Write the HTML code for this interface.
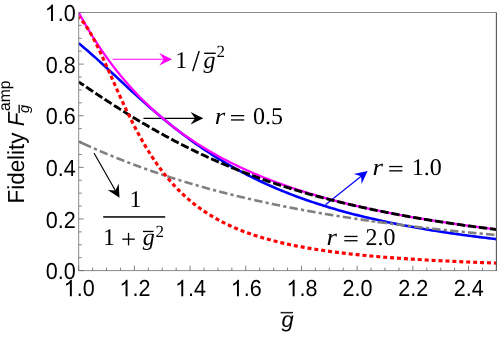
<!DOCTYPE html>
<html><head><meta charset="utf-8"><style>
html,body{margin:0;padding:0;background:#fff;}
svg{display:block;text-rendering:geometricPrecision}
.s,.t{filter:grayscale(1)}
.s{font-family:"Liberation Sans",sans-serif;}
.t{font-family:"Liberation Serif",serif;}
</style></head><body>
<svg width="498" height="338" viewBox="0 0 498 338">
<rect width="498" height="338" fill="#fff"/>
<defs><clipPath id="c"><rect x="78.7" y="12.5" width="417.7" height="258.1"/></clipPath></defs>
<line x1="112.60" y1="59.20" x2="164.20" y2="59.20" stroke="#ff00ff" stroke-width="1.15"/><path d="M172.00,59.20 L159.30,52.90 L163.70,59.20 L159.30,65.50 Z" fill="#ff00ff"/><line x1="143.50" y1="118.30" x2="195.50" y2="118.30" stroke="#000" stroke-width="1.15"/><path d="M203.30,118.30 L190.60,112.00 L195.00,118.30 L190.60,124.60 Z" fill="#000"/><line x1="94.00" y1="153.00" x2="115.64" y2="191.02" stroke="#000" stroke-width="1.15"/><path d="M119.50,197.80 L118.69,183.65 L115.39,190.59 L107.74,189.88 Z" fill="#000"/><line x1="325.50" y1="204.80" x2="361.51" y2="175.97" stroke="#0000ff" stroke-width="1.15"/><path d="M367.60,171.10 L353.75,174.12 L361.12,176.29 L361.62,183.95 Z" fill="#0000ff"/>
<g clip-path="url(#c)" fill="none">
<path d="M78.70,43.27 L81.48,45.56 L84.27,47.91 L87.05,50.29 L89.84,52.71 L92.62,55.17 L95.41,57.65 L98.19,60.16 L100.98,62.69 L103.76,65.24 L106.55,67.80 L109.33,70.37 L112.12,72.95 L114.90,75.54 L117.69,78.12 L120.47,80.71 L123.25,83.29 L126.04,85.87 L128.82,88.43 L131.61,90.99 L134.39,93.53 L137.18,96.06 L139.96,98.57 L142.75,101.07 L145.53,103.54 L148.32,105.99 L151.10,108.42 L153.89,110.83 L156.67,113.21 L159.46,115.57 L162.24,117.90 L165.02,120.20 L167.81,122.48 L170.59,124.72 L173.38,126.94 L176.16,129.13 L178.95,131.29 L181.73,133.41 L184.52,135.51 L187.30,137.58 L190.09,139.61 L192.87,141.62 L195.66,143.59 L198.44,145.54 L201.23,147.45 L204.01,149.34 L206.79,151.19 L209.58,153.01 L212.36,154.80 L215.15,156.57 L217.93,158.30 L220.72,160.00 L223.50,161.68 L226.29,163.32 L229.07,164.94 L231.86,166.53 L234.64,168.09 L237.43,169.63 L240.21,171.13 L243.00,172.61 L245.78,174.07 L248.56,175.50 L251.35,176.90 L254.13,178.28 L256.92,179.63 L259.70,180.96 L262.49,182.27 L265.27,183.55 L268.06,184.81 L270.84,186.04 L273.63,187.26 L276.41,188.45 L279.20,189.62 L281.98,190.77 L284.77,191.90 L287.55,193.00 L290.33,194.09 L293.12,195.16 L295.90,196.21 L298.69,197.24 L301.47,198.25 L304.26,199.25 L307.04,200.22 L309.83,201.18 L312.61,202.12 L315.40,203.05 L318.18,203.96 L320.97,204.85 L323.75,205.72 L326.54,206.58 L329.32,207.43 L332.10,208.26 L334.89,209.08 L337.67,209.88 L340.46,210.67 L343.24,211.44 L346.03,212.20 L348.81,212.95 L351.60,213.68 L354.38,214.41 L357.17,215.12 L359.95,215.81 L362.74,216.50 L365.52,217.17 L368.31,217.83 L371.09,218.49 L373.87,219.13 L376.66,219.76 L379.44,220.37 L382.23,220.98 L385.01,221.58 L387.80,222.17 L390.58,222.75 L393.37,223.32 L396.15,223.88 L398.94,224.43 L401.72,224.97 L404.51,225.50 L407.29,226.03 L410.08,226.54 L412.86,227.05 L415.64,227.55 L418.43,228.04 L421.21,228.52 L424.00,229.00 L426.78,229.47 L429.57,229.93 L432.35,230.38 L435.14,230.83 L437.92,231.27 L440.71,231.70 L443.49,232.13 L446.28,232.55 L449.06,232.96 L451.85,233.37 L454.63,233.77 L457.41,234.16 L460.20,234.55 L462.98,234.93 L465.77,235.31 L468.55,235.68 L471.34,236.05 L474.12,236.41 L476.91,236.76 L479.69,237.11 L482.48,237.46 L485.26,237.80 L488.05,238.13 L490.83,238.46 L493.62,238.79 L496.40,239.11" stroke="#0000ff" stroke-width="2.6"/>
<path d="M78.70,12.50 L81.48,17.59 L84.27,22.52 L87.05,27.32 L89.84,31.97 L92.62,36.50 L95.41,40.89 L98.19,45.17 L100.98,49.32 L103.76,53.36 L106.55,57.29 L109.33,61.12 L112.12,64.84 L114.90,68.47 L117.69,72.00 L120.47,75.44 L123.25,78.79 L126.04,82.05 L128.82,85.24 L131.61,88.34 L134.39,91.36 L137.18,94.31 L139.96,97.19 L142.75,100.00 L145.53,102.74 L148.32,105.42 L151.10,108.03 L153.89,110.58 L156.67,113.07 L159.46,115.50 L162.24,117.88 L165.02,120.20 L167.81,122.47 L170.59,124.69 L173.38,126.86 L176.16,128.98 L178.95,131.06 L181.73,133.09 L184.52,135.07 L187.30,137.01 L190.09,138.92 L192.87,140.78 L195.66,142.60 L198.44,144.38 L201.23,146.13 L204.01,147.84 L206.79,149.52 L209.58,151.16 L212.36,152.77 L215.15,154.34 L217.93,155.89 L220.72,157.40 L223.50,158.89 L226.29,160.34 L229.07,161.77 L231.86,163.17 L234.64,164.54 L237.43,165.89 L240.21,167.21 L243.00,168.51 L245.78,169.78 L248.56,171.03 L251.35,172.25 L254.13,173.46 L256.92,174.64 L259.70,175.80 L262.49,176.94 L265.27,178.05 L268.06,179.15 L270.84,180.23 L273.63,181.29 L276.41,182.33 L279.20,183.36 L281.98,184.36 L284.77,185.35 L287.55,186.32 L290.33,187.28 L293.12,188.22 L295.90,189.14 L298.69,190.05 L301.47,190.94 L304.26,191.82 L307.04,192.68 L309.83,193.53 L312.61,194.37 L315.40,195.19 L318.18,196.00 L320.97,196.79 L323.75,197.57 L326.54,198.35 L329.32,199.10 L332.10,199.85 L334.89,200.59 L337.67,201.31 L340.46,202.02 L343.24,202.72 L346.03,203.41 L348.81,204.09 L351.60,204.76 L354.38,205.42 L357.17,206.08 L359.95,206.72 L362.74,207.35 L365.52,207.97 L368.31,208.58 L371.09,209.18 L373.87,209.78 L376.66,210.37 L379.44,210.94 L382.23,211.51 L385.01,212.07 L387.80,212.63 L390.58,213.17 L393.37,213.71 L396.15,214.24 L398.94,214.76 L401.72,215.28 L404.51,215.79 L407.29,216.29 L410.08,216.79 L412.86,217.27 L415.64,217.76 L418.43,218.23 L421.21,218.70 L424.00,219.16 L426.78,219.62 L429.57,220.07 L432.35,220.51 L435.14,220.95 L437.92,221.38 L440.71,221.81 L443.49,222.23 L446.28,222.65 L449.06,223.06 L451.85,223.46 L454.63,223.86 L457.41,224.26 L460.20,224.65 L462.98,225.03 L465.77,225.42 L468.55,225.79 L471.34,226.16 L474.12,226.53 L476.91,226.89 L479.69,227.25 L482.48,227.60 L485.26,227.95 L488.05,228.29 L490.83,228.64 L493.62,228.97 L496.40,229.30" stroke="#ff00ff" stroke-width="2.3"/>
<path d="M78.70,141.55 L78.80,141.60 L79.64,141.98 L80.48,142.37 L81.31,142.75 L82.15,143.14 L82.98,143.52 L83.82,143.90 L84.65,144.28 L85.49,144.66 L86.32,145.03 L87.16,145.41 L87.99,145.79 L88.83,146.16 L89.66,146.53 L90.50,146.90 L91.00,147.12M93.92,148.41 L93.95,148.42 L94.78,148.79 L95.62,149.15 L96.45,149.52 L96.89,149.70M99.82,150.97 L99.90,151.00 L100.73,151.36 L101.57,151.71 L102.40,152.07 L103.24,152.42 L104.08,152.78 L104.91,153.13 L105.75,153.48 L106.58,153.83 L107.42,154.18 L107.56,154.24M110.52,155.46 L110.55,155.47 L111.39,155.81 L112.22,156.16 L113.06,156.50 L113.51,156.68M116.48,157.88 L116.50,157.89 L117.34,158.22 L118.17,158.56 L119.01,158.89 L119.84,159.22 L120.68,159.55 L121.51,159.88 L122.35,160.21 L123.19,160.54 L124.02,160.86 L124.29,160.97M127.27,162.12 L127.36,162.16 L128.20,162.48 L129.03,162.80 L129.87,163.11 L130.29,163.28M133.28,164.41 L133.31,164.42 L134.15,164.73 L134.99,165.04 L135.82,165.35 L136.66,165.66 L137.49,165.97 L138.33,166.28 L139.16,166.59 L140.00,166.89 L140.83,167.20 L141.16,167.32M144.17,168.40 L144.17,168.40 L145.01,168.70 L145.85,169.00 L146.68,169.30 L147.22,169.49M150.23,170.55 L150.34,170.59 L151.17,170.88 L152.01,171.17 L152.84,171.46 L153.68,171.75 L154.51,172.04 L155.35,172.32 L156.18,172.61 L157.02,172.89 L157.85,173.18 L158.18,173.29M161.21,174.31 L161.30,174.34 L162.14,174.62 L162.97,174.90 L163.81,175.17 L164.27,175.33M167.31,176.32 L167.36,176.34 L168.19,176.61 L169.03,176.88 L169.86,177.15 L170.70,177.42 L171.53,177.69 L172.37,177.95 L173.20,178.22 L174.04,178.49 L174.88,178.75 L175.31,178.89M178.37,179.85 L178.43,179.86 L179.26,180.12 L180.10,180.38 L180.93,180.64 L181.45,180.80M184.51,181.73 L184.59,181.76 L185.42,182.01 L186.26,182.26 L187.09,182.51 L187.93,182.76 L188.76,183.01 L189.60,183.26 L190.43,183.51 L191.27,183.75 L192.11,184.00 L192.56,184.13M195.64,185.03 L195.66,185.03 L196.49,185.28 L197.33,185.52 L198.16,185.76 L198.74,185.92M201.82,186.79 L201.92,186.82 L202.76,187.06 L203.59,187.29 L204.43,187.53 L205.26,187.76 L206.10,187.99 L206.93,188.22 L207.77,188.45 L208.60,188.68 L209.44,188.91 L209.91,189.04M213.00,189.87 L213.09,189.90 L213.93,190.12 L214.77,190.35 L215.60,190.57 L216.12,190.71M219.22,191.52 L219.26,191.53 L220.09,191.75 L220.93,191.97 L221.76,192.18 L222.60,192.40 L223.43,192.62 L224.27,192.83 L225.10,193.04 L225.94,193.26 L226.77,193.47 L227.35,193.62M230.46,194.40 L230.53,194.41 L231.37,194.62 L232.20,194.83 L233.04,195.04 L233.59,195.17M236.70,195.93 L236.80,195.96 L237.63,196.16 L238.47,196.36 L239.31,196.56 L240.14,196.76 L240.98,196.96 L241.81,197.16 L242.65,197.36 L243.48,197.56 L244.32,197.76 L244.87,197.89M247.99,198.61 L248.08,198.64 L248.91,198.83 L249.75,199.02 L250.58,199.21 L251.13,199.34M254.25,200.05 L254.34,200.07 L255.18,200.26 L256.01,200.44 L256.85,200.63 L257.68,200.82 L258.52,201.00 L259.36,201.19 L260.19,201.37 L261.03,201.56 L261.86,201.74 L262.45,201.87M265.58,202.55 L265.62,202.55 L266.46,202.73 L267.29,202.91 L268.13,203.09 L268.74,203.22M271.87,203.88 L271.89,203.89 L272.72,204.06 L273.56,204.24 L274.39,204.41 L275.23,204.58 L276.06,204.76 L276.90,204.93 L277.73,205.10 L278.57,205.27 L279.40,205.44 L280.10,205.58M283.23,206.21 L283.27,206.22 L284.10,206.39 L284.94,206.55 L285.77,206.72 L286.40,206.84M289.54,207.46 L289.64,207.48 L290.47,207.64 L291.31,207.80 L292.14,207.96 L292.98,208.12 L293.82,208.28 L294.65,208.44 L295.49,208.60 L296.32,208.76 L297.16,208.92 L297.79,209.04M300.94,209.63 L301.02,209.64 L301.86,209.80 L302.69,209.95 L303.53,210.11 L304.11,210.21M307.26,210.79 L307.29,210.79 L308.12,210.94 L308.96,211.10 L309.79,211.25 L310.63,211.40 L311.46,211.54 L312.30,211.69 L313.13,211.84 L313.97,211.99 L314.80,212.14 L315.53,212.26M318.68,212.81 L318.77,212.83 L319.61,212.97 L320.44,213.12 L321.28,213.26 L321.87,213.36M325.02,213.89 L325.04,213.90 L325.87,214.04 L326.71,214.18 L327.54,214.32 L328.38,214.46 L329.22,214.60 L330.05,214.73 L330.89,214.87 L331.72,215.01 L332.56,215.15 L333.31,215.27M336.47,215.78 L336.53,215.79 L337.36,215.92 L338.20,216.06 L339.03,216.19 L339.66,216.29M342.82,216.79 L342.90,216.80 L343.73,216.93 L344.57,217.06 L345.40,217.19 L346.24,217.32 L347.07,217.45 L347.91,217.58 L348.74,217.71 L349.58,217.84 L350.41,217.97 L351.12,218.07M354.28,218.55 L354.38,218.56 L355.22,218.69 L356.05,218.81 L356.89,218.94 L357.48,219.03M360.64,219.49 L360.65,219.49 L361.48,219.61 L362.32,219.74 L363.15,219.86 L363.99,219.98 L364.82,220.10 L365.66,220.22 L366.50,220.34 L367.33,220.46 L368.17,220.58 L368.96,220.69M372.13,221.13 L372.13,221.14 L372.97,221.25 L373.81,221.37 L374.64,221.48 L375.33,221.58M378.50,222.01 L378.50,222.02 L379.34,222.13 L380.17,222.24 L381.01,222.36 L381.85,222.47 L382.68,222.58 L383.52,222.69 L384.35,222.80 L385.19,222.92 L386.02,223.03 L386.82,223.13M390.00,223.55 L390.10,223.56 L390.93,223.67 L391.77,223.78 L392.60,223.89 L393.20,223.96M396.37,224.37 L396.47,224.38 L397.30,224.49 L398.14,224.59 L398.97,224.70 L399.81,224.80 L400.64,224.91 L401.48,225.01 L402.31,225.12 L403.15,225.22 L403.98,225.33 L404.71,225.41M407.88,225.80 L407.95,225.81 L408.79,225.91 L409.62,226.02 L410.46,226.12 L411.09,226.19M414.27,226.57 L414.32,226.58 L415.16,226.68 L415.99,226.78 L416.83,226.88 L417.66,226.97 L418.50,227.07 L419.33,227.17 L420.17,227.27 L421.01,227.36 L421.84,227.46 L422.61,227.55M425.79,227.91 L425.81,227.92 L426.64,228.01 L427.48,228.11 L428.31,228.20 L429.00,228.28M432.18,228.63 L432.28,228.64 L433.12,228.74 L433.95,228.83 L434.79,228.92 L435.62,229.01 L436.46,229.11 L437.30,229.20 L438.13,229.29 L438.97,229.38 L439.80,229.47 L440.53,229.55M443.71,229.89 L443.77,229.89 L444.61,229.98 L445.44,230.07 L446.28,230.16 L446.92,230.23M450.11,230.56 L450.14,230.57 L450.98,230.65 L451.81,230.74 L452.65,230.83 L453.48,230.91 L454.32,231.00 L455.15,231.08 L455.99,231.17 L456.82,231.25 L457.66,231.34 L458.46,231.42M461.65,231.74 L461.73,231.75 L462.57,231.83 L463.40,231.91 L464.24,232.00 L464.86,232.06M468.04,232.37 L468.10,232.38 L468.94,232.46 L469.77,232.54 L470.61,232.62 L471.44,232.70 L472.28,232.78 L473.11,232.86 L473.95,232.94 L474.78,233.02 L475.62,233.10 L476.41,233.17M479.59,233.47 L479.69,233.48 L480.53,233.56 L481.36,233.64 L482.20,233.72 L482.81,233.77M485.99,234.07 L486.06,234.07 L486.90,234.15 L487.73,234.22 L488.57,234.30 L489.40,234.38 L490.24,234.45 L491.07,234.53 L491.91,234.60 L492.75,234.68 L493.58,234.75 L494.36,234.82" stroke="#808080" stroke-width="2.6"/>
<path d="M78.70,81.91 L78.80,81.98 L79.64,82.55 L80.48,83.12 L81.31,83.68 L82.15,84.25 L82.98,84.81 L83.82,85.38 L83.89,85.43M86.21,86.99 L86.22,87.00 L87.05,87.56 L87.89,88.12 L88.72,88.68 L89.56,89.24 L90.40,89.80 L91.23,90.36 L92.07,90.92 L92.90,91.48 L93.10,91.62M95.43,93.17 L95.51,93.22 L96.35,93.78 L97.18,94.34 L98.02,94.89 L98.85,95.44 L99.69,96.00 L100.52,96.55 L101.36,97.10 L102.20,97.65 L102.35,97.75M104.69,99.29 L104.70,99.30 L105.54,99.84 L106.37,100.39 L107.21,100.94 L108.04,101.48 L108.88,102.02 L109.71,102.57 L110.55,103.11 L111.39,103.65 L111.64,103.82M114.00,105.33 L114.10,105.40 L114.94,105.93 L115.77,106.47 L116.61,107.00 L117.44,107.53 L118.28,108.07 L119.11,108.60 L119.95,109.13 L120.78,109.65 L121.00,109.79M123.36,111.28 L123.39,111.30 L124.23,111.82 L125.06,112.34 L125.90,112.86 L126.74,113.38 L127.57,113.90 L128.41,114.42 L129.24,114.93 L130.08,115.45 L130.42,115.66M132.80,117.12 L132.90,117.18 L133.73,117.69 L134.57,118.19 L135.40,118.70 L136.24,119.20 L137.07,119.71 L137.91,120.21 L138.74,120.71 L139.58,121.21 L139.91,121.41M142.31,122.84 L142.40,122.89 L143.23,123.38 L144.07,123.87 L144.91,124.36 L145.74,124.85 L146.58,125.34 L147.41,125.83 L148.25,126.31 L149.08,126.80 L149.47,127.03M151.90,128.42 L151.90,128.42 L152.74,128.90 L153.57,129.38 L154.41,129.85 L155.24,130.32 L156.08,130.80 L156.91,131.27 L157.75,131.74 L158.59,132.20 L159.12,132.51M161.57,133.86 L161.61,133.89 L162.45,134.35 L163.28,134.81 L164.12,135.27 L164.96,135.72 L165.79,136.18 L166.63,136.63 L167.46,137.08 L168.30,137.53 L168.86,137.84M171.32,139.15 L171.32,139.15 L172.16,139.60 L173.00,140.04 L173.83,140.48 L174.67,140.92 L175.50,141.36 L176.34,141.80 L177.17,142.23 L178.01,142.66 L178.67,143.01M181.16,144.29 L181.25,144.33 L182.08,144.76 L182.92,145.18 L183.75,145.60 L184.59,146.03 L185.42,146.45 L186.26,146.87 L187.09,147.28 L187.93,147.70 L188.58,148.02M191.08,149.26 L191.17,149.30 L192.00,149.71 L192.84,150.11 L193.67,150.52 L194.51,150.92 L195.34,151.33 L196.18,151.73 L197.01,152.13 L197.85,152.53 L198.56,152.87M201.09,154.06 L201.19,154.11 L202.03,154.50 L202.86,154.89 L203.70,155.28 L204.53,155.67 L205.37,156.05 L206.20,156.44 L207.04,156.82 L207.87,157.20 L208.62,157.54M211.17,158.69 L211.22,158.71 L212.05,159.09 L212.89,159.46 L213.72,159.83 L214.56,160.20 L215.39,160.57 L216.23,160.94 L217.06,161.30 L217.90,161.67 L218.73,162.03 L218.76,162.04M221.33,163.15 L221.34,163.16 L222.18,163.52 L223.02,163.87 L223.85,164.23 L224.69,164.58 L225.52,164.93 L226.36,165.28 L227.19,165.63 L228.03,165.98 L228.86,166.33 L228.98,166.38M231.57,167.44 L231.58,167.45 L232.41,167.79 L233.25,168.13 L234.08,168.47 L234.92,168.80 L235.76,169.14 L236.59,169.47 L237.43,169.81 L238.26,170.14 L239.10,170.47 L239.27,170.54M241.87,171.56 L241.92,171.58 L242.75,171.90 L243.59,172.23 L244.42,172.55 L245.26,172.87 L246.09,173.19 L246.93,173.51 L247.76,173.83 L248.60,174.14 L249.43,174.46 L249.62,174.53M252.24,175.51 L252.25,175.51 L253.09,175.82 L253.93,176.13 L254.76,176.44 L255.60,176.74 L256.43,177.05 L257.27,177.35 L258.10,177.65 L258.94,177.96 L259.77,178.26 L260.04,178.35M262.68,179.29 L262.70,179.30 L263.53,179.59 L264.37,179.89 L265.20,180.18 L266.04,180.47 L266.87,180.76 L267.71,181.05 L268.54,181.34 L269.38,181.62 L270.22,181.91 L270.52,182.01M273.17,182.91 L273.24,182.93 L274.08,183.21 L274.91,183.49 L275.75,183.77 L276.59,184.05 L277.42,184.32 L278.26,184.60 L279.09,184.87 L279.93,185.15 L280.76,185.42 L281.05,185.51M283.71,186.37 L283.79,186.39 L284.63,186.66 L285.46,186.92 L286.30,187.19 L287.13,187.45 L287.97,187.71 L288.80,187.98 L289.64,188.24 L290.47,188.50 L291.31,188.75 L291.63,188.85M294.30,189.67 L294.34,189.68 L295.17,189.93 L296.01,190.19 L296.84,190.44 L297.68,190.69 L298.51,190.94 L299.35,191.19 L300.19,191.43 L301.02,191.68 L301.86,191.93 L302.26,192.04M304.94,192.83 L304.99,192.84 L305.82,193.08 L306.66,193.32 L307.50,193.56 L308.33,193.80 L309.17,194.03 L310.00,194.27 L310.84,194.50 L311.67,194.74 L312.51,194.97 L312.93,195.09M315.62,195.83 L315.64,195.84 L316.48,196.07 L317.31,196.30 L318.15,196.52 L318.98,196.75 L319.82,196.98 L320.65,197.20 L321.49,197.42 L322.32,197.65 L323.16,197.87 L323.64,197.99M326.34,198.71 L326.40,198.72 L327.23,198.94 L328.07,199.15 L328.90,199.37 L329.74,199.58 L330.57,199.80 L331.41,200.01 L332.24,200.22 L333.08,200.44 L333.91,200.65 L334.38,200.76M337.10,201.44 L337.15,201.46 L337.99,201.66 L338.82,201.87 L339.66,202.07 L340.49,202.28 L341.33,202.48 L342.16,202.68 L343.00,202.89 L343.84,203.09 L344.67,203.29 L345.16,203.40M347.88,204.05 L347.91,204.06 L348.74,204.25 L349.58,204.45 L350.41,204.64 L351.25,204.84 L352.08,205.03 L352.92,205.22 L353.76,205.42 L354.59,205.61 L355.43,205.80 L355.97,205.92M358.70,206.54 L358.77,206.55 L359.60,206.74 L360.44,206.93 L361.27,207.11 L362.11,207.30 L362.94,207.48 L363.78,207.66 L364.62,207.85 L365.45,208.03 L366.29,208.21 L366.80,208.32M369.54,208.91 L369.63,208.93 L370.46,209.10 L371.30,209.28 L372.13,209.46 L372.97,209.63 L373.81,209.81 L374.64,209.98 L375.48,210.15 L376.31,210.33 L377.15,210.50 L377.66,210.61M380.40,211.16 L380.49,211.18 L381.32,211.35 L382.16,211.52 L382.99,211.69 L383.83,211.85 L384.67,212.02 L385.50,212.19 L386.34,212.35 L387.17,212.51 L388.01,212.68 L388.54,212.78M391.29,213.32 L391.35,213.33 L392.18,213.49 L393.02,213.65 L393.85,213.81 L394.69,213.97 L395.53,214.12 L396.36,214.28 L397.20,214.44 L398.03,214.60 L398.87,214.75 L399.44,214.86M402.20,215.37 L402.21,215.37 L403.04,215.52 L403.88,215.68 L404.71,215.83 L405.55,215.98 L406.39,216.13 L407.22,216.28 L408.06,216.43 L408.89,216.58 L409.73,216.73 L410.36,216.84M413.12,217.32 L413.17,217.33 L414.01,217.48 L414.84,217.62 L415.68,217.77 L416.51,217.91 L417.35,218.05 L418.19,218.20 L419.02,218.34 L419.86,218.48 L420.69,218.62 L421.30,218.73M424.06,219.19 L424.14,219.20 L424.97,219.34 L425.81,219.48 L426.64,219.61 L427.48,219.75 L428.31,219.89 L429.15,220.02 L429.99,220.16 L430.82,220.30 L431.66,220.43 L432.25,220.52M435.01,220.97 L435.10,220.98 L435.94,221.11 L436.77,221.24 L437.61,221.37 L438.44,221.50 L439.28,221.63 L440.11,221.76 L440.95,221.89 L441.79,222.02 L442.62,222.15 L443.21,222.24M445.98,222.66 L446.07,222.67 L446.90,222.80 L447.74,222.93 L448.57,223.05 L449.41,223.18 L450.24,223.30 L451.08,223.42 L451.91,223.55 L452.75,223.67 L453.59,223.79 L454.19,223.88M456.96,224.28 L457.03,224.29 L457.87,224.41 L458.70,224.53 L459.54,224.65 L460.37,224.77 L461.21,224.89 L462.04,225.00 L462.88,225.12 L463.71,225.24 L464.55,225.36 L465.17,225.44M467.95,225.82 L468.00,225.83 L468.83,225.95 L469.67,226.06 L470.50,226.17 L471.34,226.29 L472.17,226.40 L473.01,226.51 L473.84,226.62 L474.68,226.74 L475.51,226.85 L476.17,226.93M478.94,227.30 L478.96,227.30 L479.80,227.41 L480.63,227.52 L481.47,227.63 L482.30,227.74 L483.14,227.85 L483.97,227.95 L484.81,228.06 L485.64,228.17 L486.48,228.27 L487.18,228.36M489.95,228.71 L490.03,228.72 L490.87,228.82 L491.70,228.93 L492.54,229.03 L493.37,229.13 L494.21,229.24 L495.04,229.34 L495.88,229.44 L496.40,229.51" stroke="#000" stroke-width="2.9"/>
<path d="M78.70,17.14 L81.48,20.00 L84.27,23.46 L87.05,27.48 L89.84,31.99 L92.62,36.94 L95.41,42.27 L98.19,47.90 L100.98,53.78 L103.76,59.84 L106.55,66.03 L109.33,72.30 L112.12,78.61 L114.90,84.90 L117.69,91.15 L120.47,97.32 L123.25,103.39 L126.04,109.34 L128.82,115.14 L131.61,120.78 L134.39,126.26 L137.18,131.56 L139.96,136.69 L142.75,141.63 L145.53,146.39 L148.32,150.97 L151.10,155.37 L153.89,159.59 L156.67,163.64 L159.46,167.52 L162.24,171.24 L165.02,174.80 L167.81,178.21 L170.59,181.47 L173.38,184.59 L176.16,187.57 L178.95,190.43 L181.73,193.16 L184.52,195.77 L187.30,198.27 L190.09,200.66 L192.87,202.95 L195.66,205.14 L198.44,207.24 L201.23,209.24 L204.01,211.17 L206.79,213.01 L209.58,214.78 L212.36,216.47 L215.15,218.09 L217.93,219.65 L220.72,221.15 L223.50,222.58 L226.29,223.96 L229.07,225.28 L231.86,226.56 L234.64,227.78 L237.43,228.95 L240.21,230.08 L243.00,231.17 L245.78,232.22 L248.56,233.23 L251.35,234.20 L254.13,235.14 L256.92,236.04 L259.70,236.91 L262.49,237.75 L265.27,238.56 L268.06,239.34 L270.84,240.09 L273.63,240.82 L276.41,241.52 L279.20,242.20 L281.98,242.86 L284.77,243.50 L287.55,244.11 L290.33,244.71 L293.12,245.28 L295.90,245.84 L298.69,246.38 L301.47,246.90 L304.26,247.41 L307.04,247.90 L309.83,248.38 L312.61,248.84 L315.40,249.29 L318.18,249.72 L320.97,250.14 L323.75,250.55 L326.54,250.95 L329.32,251.34 L332.10,251.71 L334.89,252.08 L337.67,252.43 L340.46,252.78 L343.24,253.11 L346.03,253.44 L348.81,253.76 L351.60,254.07 L354.38,254.37 L357.17,254.66 L359.95,254.94 L362.74,255.22 L365.52,255.49 L368.31,255.76 L371.09,256.01 L373.87,256.26 L376.66,256.51 L379.44,256.74 L382.23,256.98 L385.01,257.20 L387.80,257.42 L390.58,257.64 L393.37,257.85 L396.15,258.05 L398.94,258.26 L401.72,258.45 L404.51,258.64 L407.29,258.83 L410.08,259.01 L412.86,259.19 L415.64,259.37 L418.43,259.54 L421.21,259.70 L424.00,259.87 L426.78,260.03 L429.57,260.18 L432.35,260.33 L435.14,260.48 L437.92,260.63 L440.71,260.77 L443.49,260.91 L446.28,261.05 L449.06,261.18 L451.85,261.32 L454.63,261.44 L457.41,261.57 L460.20,261.69 L462.98,261.81 L465.77,261.93 L468.55,262.05 L471.34,262.16 L474.12,262.28 L476.91,262.39 L479.69,262.49 L482.48,262.60 L485.26,262.70 L488.05,262.80 L490.83,262.90 L493.62,263.00 L496.40,263.10" stroke="#ff0000" stroke-width="3.15" stroke-dasharray="4.0,2.931" stroke-dashoffset="1.93"/>
</g>
<g stroke="#8a8a8a" stroke-width="1" fill="none"><path d="M78.7,270.6 V12.5 H496.4"/><path d="M78.7,270.6 H496.4"/></g>
<path d="M496.4,12.5 V271.1" stroke="#555" stroke-width="1.1" fill="none"/>
<g stroke="#6a6a6a" stroke-width="0.85"><line x1="78.70" y1="270.60" x2="78.70" y2="265.60"/><line x1="92.62" y1="270.60" x2="92.62" y2="267.60"/><line x1="106.55" y1="270.60" x2="106.55" y2="267.60"/><line x1="120.47" y1="270.60" x2="120.47" y2="267.60"/><line x1="134.39" y1="270.60" x2="134.39" y2="265.60"/><line x1="148.32" y1="270.60" x2="148.32" y2="267.60"/><line x1="162.24" y1="270.60" x2="162.24" y2="267.60"/><line x1="176.16" y1="270.60" x2="176.16" y2="267.60"/><line x1="190.09" y1="270.60" x2="190.09" y2="265.60"/><line x1="204.01" y1="270.60" x2="204.01" y2="267.60"/><line x1="217.93" y1="270.60" x2="217.93" y2="267.60"/><line x1="231.86" y1="270.60" x2="231.86" y2="267.60"/><line x1="245.78" y1="270.60" x2="245.78" y2="265.60"/><line x1="259.70" y1="270.60" x2="259.70" y2="267.60"/><line x1="273.63" y1="270.60" x2="273.63" y2="267.60"/><line x1="287.55" y1="270.60" x2="287.55" y2="267.60"/><line x1="301.47" y1="270.60" x2="301.47" y2="265.60"/><line x1="315.40" y1="270.60" x2="315.40" y2="267.60"/><line x1="329.32" y1="270.60" x2="329.32" y2="267.60"/><line x1="343.24" y1="270.60" x2="343.24" y2="267.60"/><line x1="357.17" y1="270.60" x2="357.17" y2="265.60"/><line x1="371.09" y1="270.60" x2="371.09" y2="267.60"/><line x1="385.01" y1="270.60" x2="385.01" y2="267.60"/><line x1="398.94" y1="270.60" x2="398.94" y2="267.60"/><line x1="412.86" y1="270.60" x2="412.86" y2="265.60"/><line x1="426.78" y1="270.60" x2="426.78" y2="267.60"/><line x1="440.71" y1="270.60" x2="440.71" y2="267.60"/><line x1="454.63" y1="270.60" x2="454.63" y2="267.60"/><line x1="468.55" y1="270.60" x2="468.55" y2="265.60"/><line x1="482.48" y1="270.60" x2="482.48" y2="267.60"/><line x1="496.40" y1="270.60" x2="496.40" y2="267.60"/><line x1="78.70" y1="270.60" x2="83.70" y2="270.60"/><line x1="78.70" y1="257.70" x2="81.70" y2="257.70"/><line x1="78.70" y1="244.79" x2="81.70" y2="244.79"/><line x1="78.70" y1="231.89" x2="81.70" y2="231.89"/><line x1="78.70" y1="218.98" x2="83.70" y2="218.98"/><line x1="78.70" y1="206.08" x2="81.70" y2="206.08"/><line x1="78.70" y1="193.17" x2="81.70" y2="193.17"/><line x1="78.70" y1="180.26" x2="81.70" y2="180.26"/><line x1="78.70" y1="167.36" x2="83.70" y2="167.36"/><line x1="78.70" y1="154.46" x2="81.70" y2="154.46"/><line x1="78.70" y1="141.55" x2="81.70" y2="141.55"/><line x1="78.70" y1="128.65" x2="81.70" y2="128.65"/><line x1="78.70" y1="115.74" x2="83.70" y2="115.74"/><line x1="78.70" y1="102.84" x2="81.70" y2="102.84"/><line x1="78.70" y1="89.93" x2="81.70" y2="89.93"/><line x1="78.70" y1="77.03" x2="81.70" y2="77.03"/><line x1="78.70" y1="64.12" x2="83.70" y2="64.12"/><line x1="78.70" y1="51.21" x2="81.70" y2="51.21"/><line x1="78.70" y1="38.31" x2="81.70" y2="38.31"/><line x1="78.70" y1="25.40" x2="81.70" y2="25.40"/><line x1="78.70" y1="12.50" x2="83.70" y2="12.50"/></g>
<g class="s" fill="#000"><path d="M763 0L583 0L583 1147Q518 1085 412.5 1023Q307 961 223 930L223 1104Q374 1175 487 1276Q600 1377 647 1472L763 1472Z" transform="translate(63.60,296.30) scale(0.0108,-0.01128)"/><text transform="translate(76.72,296.30) scale(0.930,1)" font-size="23.2" >.0</text><path d="M763 0L583 0L583 1147Q518 1085 412.5 1023Q307 961 223 930L223 1104Q374 1175 487 1276Q600 1377 647 1472L763 1472Z" transform="translate(119.29,296.30) scale(0.0108,-0.01128)"/><text transform="translate(132.41,296.30) scale(0.930,1)" font-size="23.2" >.2</text><path d="M763 0L583 0L583 1147Q518 1085 412.5 1023Q307 961 223 930L223 1104Q374 1175 487 1276Q600 1377 647 1472L763 1472Z" transform="translate(174.99,296.30) scale(0.0108,-0.01128)"/><text transform="translate(188.11,296.30) scale(0.930,1)" font-size="23.2" >.4</text><path d="M763 0L583 0L583 1147Q518 1085 412.5 1023Q307 961 223 930L223 1104Q374 1175 487 1276Q600 1377 647 1472L763 1472Z" transform="translate(230.68,296.30) scale(0.0108,-0.01128)"/><text transform="translate(243.80,296.30) scale(0.930,1)" font-size="23.2" >.6</text><path d="M763 0L583 0L583 1147Q518 1085 412.5 1023Q307 961 223 930L223 1104Q374 1175 487 1276Q600 1377 647 1472L763 1472Z" transform="translate(286.37,296.30) scale(0.0108,-0.01128)"/><text transform="translate(299.49,296.30) scale(0.930,1)" font-size="23.2" >.8</text><text transform="translate(342.47,296.30) scale(0.930,1)" font-size="23.2" >2.0</text><text transform="translate(398.16,296.30) scale(0.930,1)" font-size="23.2" >2.2</text><text transform="translate(453.85,296.30) scale(0.930,1)" font-size="23.2" >2.4</text><text transform="translate(45.80,279.20) scale(0.930,1)" font-size="23.2" >0.0</text><text transform="translate(45.80,227.58) scale(0.930,1)" font-size="23.2" >0.2</text><text transform="translate(45.80,175.96) scale(0.930,1)" font-size="23.2" >0.4</text><text transform="translate(45.80,124.34) scale(0.930,1)" font-size="23.2" >0.6</text><text transform="translate(45.80,72.72) scale(0.930,1)" font-size="23.2" >0.8</text><path d="M763 0L583 0L583 1147Q518 1085 412.5 1023Q307 961 223 930L223 1104Q374 1175 487 1276Q600 1377 647 1472L763 1472Z" transform="translate(44.70,21.10) scale(0.0108,-0.01128)"/><text transform="translate(57.82,21.10) scale(0.930,1)" font-size="23.2" >.0</text></g>
<g class="s" fill="#000" transform="translate(24,203.5) rotate(-90)">
<text transform="translate(0.00,0.00) scale(0.967,1)" font-size="23.2" >Fidelity <tspan font-style="italic">F</tspan></text><text transform="translate(92.40,-14.30) scale(0.970,1)" font-size="16.2" >amp</text><text transform="translate(90.60,5.20) scale(1.000,1)" font-size="14.6" font-style="italic">g</text>
<rect x="90.5" y="-5.5" width="8.3" height="1.3"/>
</g>
<g class="s"><text transform="translate(281.50,327.40) scale(1.000,1)" font-size="22" font-style="italic">g</text></g>
<rect x="280.6" y="311.9" width="12.4" height="1.5" fill="#222"/>
<g class="t" fill="#000">
<text transform="translate(175.20,67.80) scale(1.000,1)" font-size="24" >1</text><line x1="192.7" y1="71.3" x2="199.2" y2="51" stroke="#000" stroke-width="1.4"/><text transform="translate(203.40,67.80) scale(1.000,1)" font-size="24" font-style="italic">g</text><text transform="translate(216.60,56.80) scale(1.000,1)" font-size="17" >2</text>
<rect x="204.2" y="52.6" width="11.5" height="1.4"/>
<text transform="translate(214.80,123.80) scale(1.120,1)" font-size="24" font-style="italic">r</text><rect x="231.00" y="115.00" width="13.2" height="1.3"/><rect x="231.00" y="119.30" width="13.2" height="1.3"/><text transform="translate(252.90,123.80) scale(1.000,1)" font-size="24" >0.5</text>
<text transform="translate(372.40,174.70) scale(1.120,1)" font-size="24" font-style="italic">r</text><rect x="389.20" y="165.90" width="13.2" height="1.3"/><rect x="389.20" y="170.20" width="13.2" height="1.3"/><text transform="translate(411.80,174.70) scale(1.000,1)" font-size="24" >1.0</text>
<text transform="translate(326.40,244.60) scale(1.120,1)" font-size="24" font-style="italic">r</text><rect x="344.30" y="235.80" width="13.2" height="1.3"/><rect x="344.30" y="240.10" width="13.2" height="1.3"/><text transform="translate(365.50,244.60) scale(1.000,1)" font-size="24" >2.0</text>
<text transform="translate(129.60,206.80) scale(1.000,1)" font-size="24" >1</text><text transform="translate(102.90,245.00) scale(1.000,1)" font-size="24" >1</text><rect x="122.3" y="238.5" width="12.5" height="1.3"/><rect x="127.9" y="232.9" width="1.3" height="12.5"/><text transform="translate(142.80,245.00) scale(1.000,1)" font-size="24" font-style="italic">g</text><text transform="translate(155.60,237.00) scale(1.000,1)" font-size="17" >2</text>
<rect x="103.2" y="216.2" width="62" height="1.5"/>
<rect x="143" y="230.8" width="10.5" height="1.3"/>
</g>
</svg>
</body></html>
